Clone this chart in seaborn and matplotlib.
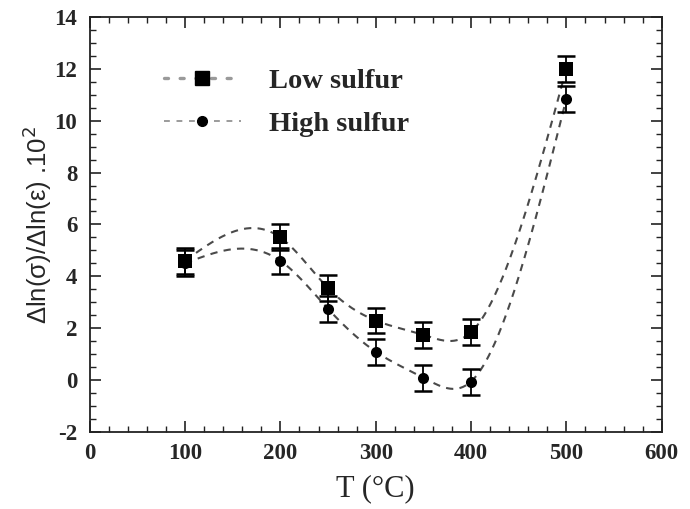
import numpy as np
import pandas as pd
import matplotlib
matplotlib.use("Agg")
import matplotlib.pyplot as plt
from matplotlib.lines import Line2D
from matplotlib.ticker import MultipleLocator
import seaborn as sns

# Measured strain-rate sensitivity vs temperature
temperature = [100, 200, 250, 300, 350, 400, 500]
low_sulfur = [4.6, 5.5, 3.55, 2.3, 1.75, 1.85, 12.0]
high_sulfur = [4.5, 4.6, 2.75, 1.1, 0.1, -0.05, 10.85]
error = [0.5, 0.5, 0.5, 0.5, 0.5, 0.5, 0.5]
series_names = ["Low sulfur", "High sulfur"]


def natural_spline(x, y, n=300):
    """Natural cubic spline through (x, y), evaluated on a fine grid."""
    x = np.asarray(x, float)
    y = np.asarray(y, float)
    k = len(x)
    h = np.diff(x)
    A = np.zeros((k, k))
    b = np.zeros(k)
    A[0, 0] = A[-1, -1] = 1.0
    for i in range(1, k - 1):
        A[i, i - 1] = h[i - 1]
        A[i, i] = 2 * (h[i - 1] + h[i])
        A[i, i + 1] = h[i]
        b[i] = 6 * ((y[i + 1] - y[i]) / h[i] - (y[i] - y[i - 1]) / h[i - 1])
    m = np.linalg.solve(A, b)
    xs = np.linspace(x[0], x[-1], n)
    idx = np.clip(np.searchsorted(x, xs) - 1, 0, k - 2)
    t0 = x[idx]
    t1 = x[idx + 1]
    hh = t1 - t0
    ys = (m[idx] * (t1 - xs) ** 3 / (6 * hh) + m[idx + 1] * (xs - t0) ** 3 / (6 * hh)
          + (y[idx] / hh - m[idx] * hh / 6) * (t1 - xs)
          + (y[idx + 1] / hh - m[idx + 1] * hh / 6) * (xs - t0))
    return xs, ys


sns.set_theme(style="ticks")
plt.rcParams["font.family"] = ["Liberation Serif", "DejaVu Serif"]
plt.rcParams["axes.unicode_minus"] = False

fig = plt.figure(figsize=(6.9, 5.09), dpi=100)
ax = fig.add_axes([0.130, 0.151, 0.829, 0.816])

rows = []
for name, vals in zip(series_names, (low_sulfur, high_sulfur)):
    xs, ys = natural_spline(temperature, vals)
    rows.append(pd.DataFrame({"T": xs, "v": ys, "series": name}))
curves = pd.concat(rows, ignore_index=True)

points = pd.DataFrame({
    "T": temperature * 2,
    "v": low_sulfur + high_sulfur,
    "err": error * 2,
    "series": [series_names[0]] * len(temperature) + [series_names[1]] * len(temperature),
})

sns.lineplot(data=curves, x="T", y="v", units="series", estimator=None,
             color="#4a4a4a", lw=1.5, linestyle=(0, (3.5, 3.0)),
             ax=ax, legend=False)

for name, marker, ms in ((series_names[0], "s", 9.5), (series_names[1], "o", 8)):
    sub = points[points["series"] == name]
    ax.errorbar(sub["T"], sub["v"], yerr=sub["err"], fmt="none", ecolor="black",
                elinewidth=1.3, capsize=6.5, capthick=1.8, zorder=3)
    sns.scatterplot(data=sub, x="T", y="v", marker=marker, s=ms ** 2,
                    color="black", edgecolor="black", linewidth=0, ax=ax,
                    zorder=4, legend=False)

ax.set_xlim(0, 600)
ax.set_ylim(-2, 14)
ax.xaxis.set_major_locator(MultipleLocator(100))
ax.xaxis.set_minor_locator(MultipleLocator(20))
ax.yaxis.set_major_locator(MultipleLocator(2))
ax.yaxis.set_minor_locator(MultipleLocator(0.5))
ax.tick_params(which="both", direction="in", top=True, right=True, color="#222222")
ax.tick_params(which="major", length=8, width=1.2, labelsize=16.5, pad=8)
ax.tick_params(axis="y", which="major", pad=9)
ax.tick_params(which="minor", length=4, width=1.0)
for lab in ax.get_xticklabels() + ax.get_yticklabels():
    lab.set_fontweight("bold")
for s in ax.spines.values():
    s.set_linewidth(1.3)
    s.set_color("#222222")

ax.set_xlabel("T (°C)", fontsize=22, labelpad=7)
ax.set_ylabel("Δln(σ)/Δln(ε) .10$^2$", fontsize=18.5,
              family=["Liberation Sans", "DejaVu Sans"], labelpad=0)

handles = [
    Line2D([], [], color="#9a9a9a", ls=(0, (1.2, 3.5)), lw=2.4, dash_capstyle="round",
           marker="s", ms=10, mfc="black", mec="black"),
    Line2D([], [], color="#8a8a8a", ls=(0, (3.5, 4)), lw=1.2, marker="o", ms=7,
           mfc="black", mec="black"),
]
leg = ax.legend(handles, series_names, loc="upper left",
                bbox_to_anchor=(0.11, 0.905), frameon=False, handlelength=2.7,
                handletextpad=1.0, labelspacing=0.62, borderaxespad=0,
                prop={"family": "Liberation Serif", "weight": "bold", "size": 20.5})

fig.savefig("out.png", dpi=100)
